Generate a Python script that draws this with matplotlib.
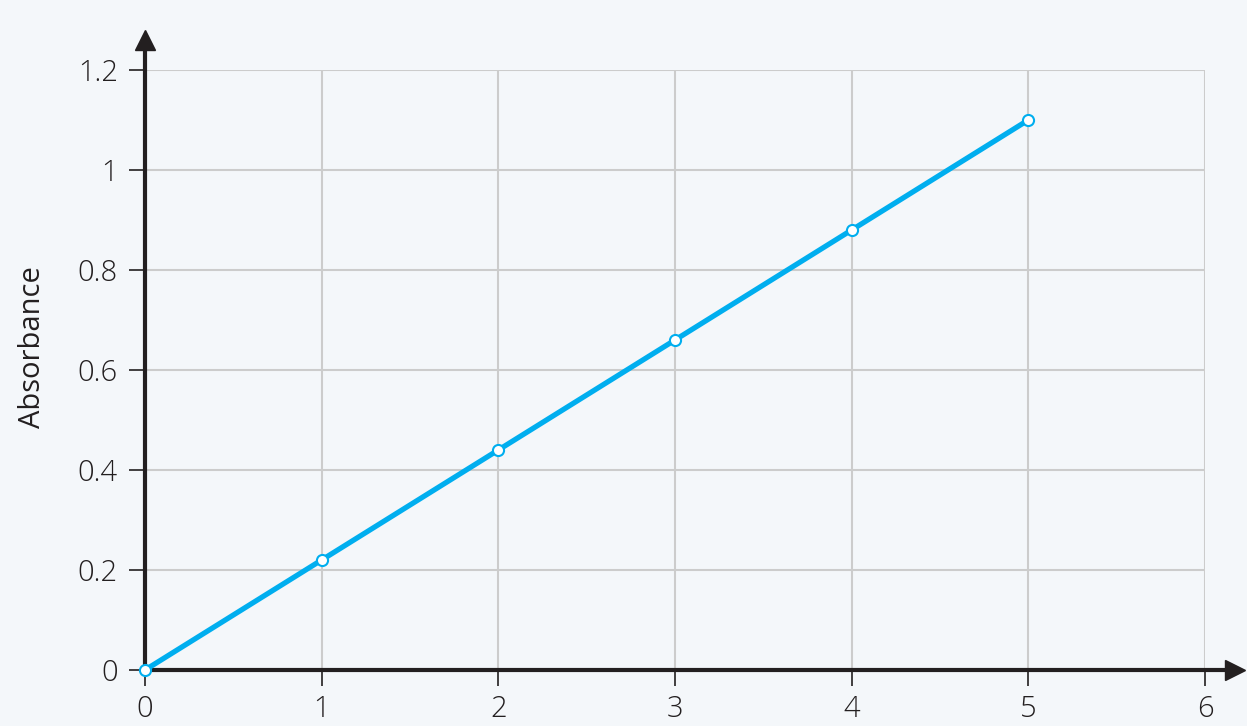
import matplotlib.pyplot as plt

# data
x_vals = [0, 1, 2, 3, 4, 5]
absorbance = [0, 0.22, 0.44, 0.66, 0.88, 1.1]
x_ticks = [0, 1, 2, 3, 4, 5, 6]
y_ticks = [0, 0.2, 0.4, 0.6, 0.8, 1.0, 1.2]
y_tick_labels = ["0", "0.2", "0.4", "0.6", "0.8", "1", "1.2"]

bg = "#f4f7fa"
ink = "#231f20"
cyan = "#00aeef"
grid_col = "#cccccc"

plt.rcParams["font.family"] = ["Open Sans", "DejaVu Sans"]

fig = plt.figure(figsize=(12.47, 7.26), dpi=100, facecolor=bg)
ax = fig.add_axes([145 / 1247, 1 - 670 / 726, 1060 / 1247, 600 / 726])
ax.set_facecolor(bg)

ax.set_xlim(0, 6)
ax.set_ylim(0, 1.2)

ax.grid(True, color=grid_col, linewidth=1.5)
ax.set_axisbelow(True)
for s in ax.spines.values():
    s.set_visible(False)

# axis lines with arrow heads
ax.plot([0, 6.17], [0, 0], color=ink, lw=3, clip_on=False, zorder=3, solid_capstyle="butt")
ax.plot([6.17], [0], marker=">", ms=15, color=ink, clip_on=False, zorder=3)
ax.plot([0, 0], [0, 1.26], color=ink, lw=3, clip_on=False, zorder=3, solid_capstyle="butt")
ax.plot([0], [1.26], marker="^", ms=15, color=ink, clip_on=False, zorder=3)

ax.plot(x_vals, absorbance, color=cyan, lw=3.8, marker="o", ms=8,
        mfc="white", mec=cyan, mew=1.5, clip_on=False, zorder=4)

ax.set_xticks(x_ticks)
ax.set_xticklabels([str(t) for t in x_ticks])
ax.set_yticks(y_ticks)
ax.set_yticklabels(y_tick_labels)
ax.tick_params(direction="out", length=11.5, width=1.2, color=ink, labelcolor=ink,
               labelsize=21, pad=8)
ax.tick_params(axis="x", pad=6)
for lbl in ax.get_xticklabels() + ax.get_yticklabels():
    lbl.set_fontweight("light")

fig.text(33 / 1247, 1 - 347 / 726, "Absorbance", fontsize=21, color=ink,
         rotation=90, ha="center", va="center")

fig.savefig("out.png", dpi=100, facecolor=bg)
